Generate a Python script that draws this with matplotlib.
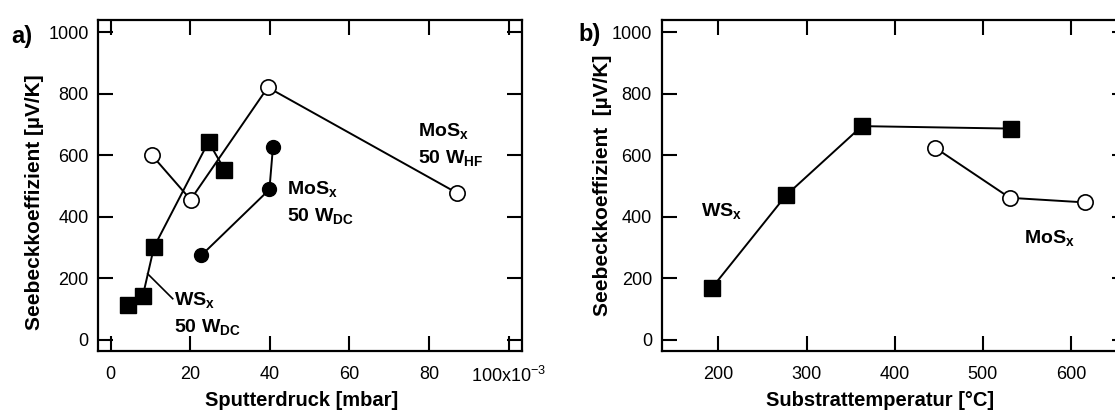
import matplotlib
matplotlib.use("Agg")
import matplotlib.pyplot as plt

plt.rcParams['font.family'] = ['Liberation Sans', 'DejaVu Sans']
plt.rcParams['mathtext.fontset'] = 'custom'
plt.rcParams['mathtext.rm'] = 'Liberation Sans'
plt.rcParams['mathtext.bf'] = 'Liberation Sans:bold'

# a) Sputterdruck in 10^-3 mbar
ws_druck = [4.3, 8.1, 10.9, 24.6, 28.6]
ws_seebeck = [112, 144, 302, 644, 554]
mos_hf_druck = [10.4, 20.1, 39.5, 87.0]
mos_hf_seebeck = [600, 456, 821, 478]
mos_dc_druck = [22.8, 39.9, 40.8]
mos_dc_seebeck = [275, 489, 628]

# b) Substrattemperatur in °C
ws_temp = [192.7, 276.8, 362.8, 531.7]
ws_seebeck_b = [169, 470, 695, 687]
mos_temp = [445.7, 530.5, 615.8]
mos_seebeck_b = [625, 462, 447]

x_ticks_a = [0, 20, 40, 60, 80, 100]
x_labels_a = ['0', '20', '40', '60', '80', r'100x10$^{\mathrm{-3}}$']
x_ticks_b = [200, 300, 400, 500, 600]
y_ticks = [0, 200, 400, 600, 800, 1000]

W, H = 1115, 412
fig = plt.figure(figsize=(W / 100, H / 100), dpi=100)


def box(x0, x1, y0=20, y1=351):
    return [x0 / W, 1 - y1 / H, (x1 - x0) / W, (y1 - y0) / H]


def style(ax):
    for s in ax.spines.values():
        s.set_linewidth(1.6)
    ax.tick_params(direction='in', length=11, width=1.5, top=True, right=True,
                   labelsize=13, pad=7)
    ax.tick_params(axis='x', pad=11)
    ax.set_yticks(y_ticks)
    ax.set_ylim(-36, 1040)


line = dict(color='black', lw=1.4)
square = dict(marker='s', ms=12, mfc='black', mec='black', ls='none', zorder=3)
open_c = dict(marker='o', ms=11, mfc='white', mec='black', mew=1.2, ls='none', zorder=3)
full_c = dict(marker='o', ms=10, mfc='black', mec='black', ls='none', zorder=3)
txt = dict(fontsize=14, fontweight='bold', linespacing=1.45)

# ---- a) ----
ax1 = fig.add_axes(box(98.3, 521.7))
style(ax1)
ax1.plot(ws_druck, ws_seebeck, **line)
ax1.plot(ws_druck, ws_seebeck, **square)
ax1.plot(mos_hf_druck, mos_hf_seebeck, **line)
ax1.plot(mos_hf_druck, mos_hf_seebeck, **open_c)
ax1.plot(mos_dc_druck, mos_dc_seebeck, **line)
ax1.plot(mos_dc_druck, mos_dc_seebeck, **full_c)
ax1.set_xlim(-3.1, 103.3)
ax1.set_xticks(x_ticks_a)
ax1.set_xticklabels(x_labels_a)
ax1.plot([9.3, 15.6], [215, 134], color='black', lw=1.2)
ax1.text(16.0, 160, r'WS$_\mathbf{x}$' + '\n' + r'50 W$_\mathbf{DC}$', va='top', **txt)
ax1.text(44.4, 520, r'MoS$_\mathbf{x}$' + '\n' + r'50 W$_\mathbf{DC}$', va='top', **txt)
ax1.text(77.3, 710, r'MoS$_\mathbf{x}$' + '\n' + r'50 W$_\mathbf{HF}$', va='top', **txt)
ax1.set_xlabel('Sputterdruck [mbar]', fontsize=14.5, fontweight='bold')
ax1.set_ylabel('Seebeckkoeffizient [µV/K]', fontsize=15, fontweight='bold')
ax1.xaxis.set_label_coords(0.48, -0.12)
ax1.yaxis.set_label_coords(-0.128, 0.45)
fig.text(22 / W, 1 - 36 / H, 'a)', fontsize=17, fontweight='bold', ha='center', va='center')

# ---- b) ----
ax2 = fig.add_axes(box(661.7, 1127))
style(ax2)
ax2.plot(ws_temp, ws_seebeck_b, **line)
ax2.plot(ws_temp, ws_seebeck_b, **square)
ax2.plot(mos_temp, mos_seebeck_b, **line)
ax2.plot(mos_temp, mos_seebeck_b, **open_c)
ax2.set_xlim(135.8, 663.4)
ax2.set_xticks(x_ticks_b)
ax2.text(180, 450, r'WS$_\mathbf{x}$', va='top', **txt)
ax2.text(547, 360, r'MoS$_\mathbf{x}$', va='top', **txt)
ax2.set_xlabel('Substrattemperatur [°C]', fontsize=14.5, fontweight='bold')
ax2.set_ylabel('Seebeckkoeffizient  [µV/K]', fontsize=15, fontweight='bold')
ax2.xaxis.set_label_coords(0.47, -0.12)
ax2.yaxis.set_label_coords(-0.106, 0.5)
fig.text(590 / W, 1 - 35 / H, 'b)', fontsize=17, fontweight='bold', ha='center', va='center')

fig.savefig('out.png', dpi=100)
